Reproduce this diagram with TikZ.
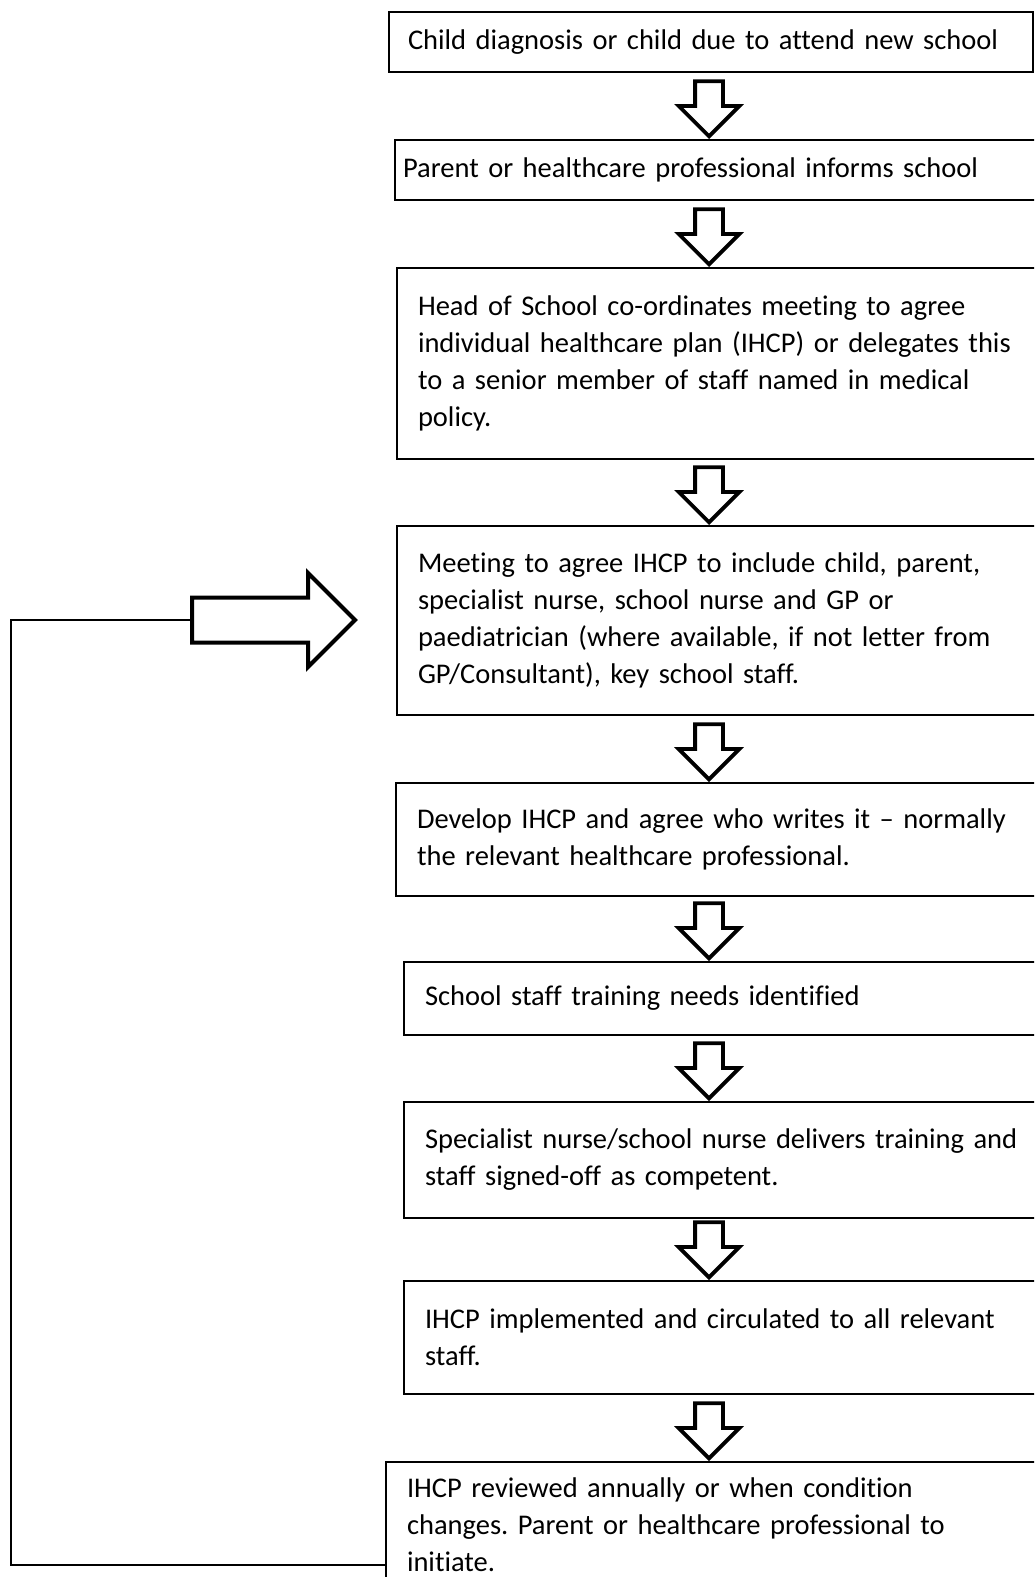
\documentclass[tikz,border=0pt]{standalone}
\usepackage{fontspec}
\setmainfont{Carlito}[Ligatures=CommonOff]
\usepackage{tikz}
\usetikzlibrary{shapes.arrows}
\frenchspacing

\tikzset{
  stage/.style={draw,line width=2pt,anchor=north west,align=left,
    inner xsep=21pt,inner ysep=6pt,text width=#1,
    font=\fontsize{28.5}{37}\selectfont},
  downarr/.style={single arrow,draw,fill=white,line width=3.8pt,
    shape border rotate=270,inner sep=12pt,minimum height=55pt,
    single arrow head extend=16.5pt,anchor=tip},
  backarr/.style={single arrow,draw,fill=white,line width=4pt,
    inner sep=20.5pt,minimum height=163pt,
    single arrow head extend=24.5pt,anchor=tail},
  feedback/.style={draw,line width=1.5pt}
}

\begin{document}
\begin{tikzpicture}[x=1pt,y=-1pt]
  \useasboundingbox (0,0) rectangle (1034,1577);
  \clip (0,0) rectangle (1034,1577);
  % stages of the plan
  \node[stage=606pt,inner xsep=19pt,minimum height=60pt] (b1) at (388,11)
    {Child diagnosis or child due to attend new school};
  \node[stage=680pt,inner xsep=8pt,minimum height=60pt] (b2) at (394,139)
    {Parent or healthcare professional informs school};
  \node[stage=680pt,minimum height=191pt] (b3) at (396,267)
    {Head of School co-ordinates meeting to agree\\
     individual healthcare plan (IHCP) or delegates this\\
     to a senior member of staff named in medical\\
     policy.};
  \node[stage=680pt,minimum height=189pt] (b4) at (396,525)
    {Meeting to agree IHCP to include child, parent,\\
     specialist nurse, school nurse and GP or\\
     paediatrician (where available, if not letter from\\
     GP/Consultant), key school staff.};
  \node[stage=680pt,minimum height=113pt] (b5) at (395,782)
    {Develop IHCP and agree who writes it -- normally\\
     the relevant healthcare professional.};
  \node[stage=680pt,minimum height=73pt] (b6) at (403,961)
    {School staff training needs identified};
  \node[stage=680pt,minimum height=116pt] (b7) at (403,1101)
    {Specialist nurse/school nurse delivers training and\\
     staff signed-off as competent.};
  \node[stage=680pt,minimum height=113pt] (b8) at (403,1280)
    {IHCP implemented and circulated to all relevant\\
     staff.};
  \node[stage=680pt,inner ysep=16pt] (b9) at (385,1461)
    {IHCP reviewed annually or when condition\\
     changes. Parent or healthcare professional to\\
     initiate.};
  % block arrows between stages
  \foreach \s in {2,...,9}
    \node[downarr] (a\s) at (709,0 |- b\s.north) {};
  % review loop
  \node[backarr] (back) at (190,620) {};
  \coordinate (loop) at (11,620);
  \draw[feedback] ([yshift=-104pt]b9.north west) -| (loop) -- (back.tail);
\end{tikzpicture}
\end{document}
